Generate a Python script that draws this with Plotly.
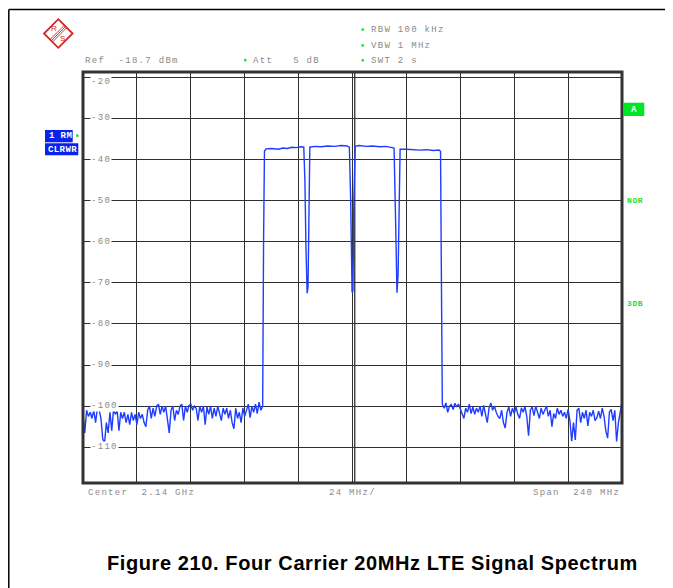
import numpy as np
import plotly.graph_objects as go

# analyzer settings
CENTER_MHZ = 2140
SPAN_MHZ = 240
DIV_MHZ = 24
REF_DBM = -18.7

# trace: noise floor left of the carriers (2020..2100 MHz, 0.8 MHz steps)
noise_left_dbm = [
    -102, -106.5, -101, -102.5, -101.5, -103, -101, -104, -100.5, -101,
    -103, -108, -109, -104, -106.5, -101.5, -106, -100.8, -102, -101,
    -106, -101.5, -103, -101.5, -104, -102, -104.5, -101.5, -103.5, -102,
    -104.5, -101.5, -103, -102, -104, -105, -101, -100, -103, -100.5,
    -102.5, -100, -99.5, -102, -100, -101.5, -100, -104, -106.5, -101,
    -100, -103.5, -101, -102, -100, -99.5, -103.5, -100, -101.5, -99.8,
    -99.5, -101, -100, -100.5, -103.5, -100, -101.5, -100, -104.5, -100.2,
    -102, -100, -103, -100.5, -102.5, -100, -101.5, -103.5, -100.5, -102,
    -100.5, -103, -101, -104, -105.5, -100.5, -103, -101.5, -104, -100.5,
    -102.5, -100.8, -99.5, -102.8, -100, -101.5, -99.5, -101.8, -99, -101,
    -100,
]

# four 20 MHz LTE carriers, 2100..2180 MHz
carrier_freq_mhz = [
    2100.4, 2100.8, 2101.5, 2104, 2107, 2109, 2111, 2113, 2115, 2117,
    2118.3, 2118.8, 2119.3, 2119.8, 2120.2, 2120.6, 2121.0, 2123, 2126, 2129,
    2132, 2135, 2137.5, 2138.6, 2139.2, 2139.8, 2140.2, 2140.6, 2141.2, 2143,
    2146, 2149, 2152, 2155, 2157.5, 2158.5, 2159.2, 2159.8, 2160.3, 2160.8,
    2161.2, 2164, 2167, 2170, 2173, 2176, 2178.5, 2179.2, 2179.6,
]
carrier_dbm = [
    -60, -38.0, -37.4, -37.3, -37.5, -37.2, -37.3, -37.0, -37.1, -36.9,
    -37.0, -45, -62, -72.5, -71, -50, -37.0, -36.8, -36.9, -36.7,
    -36.8, -36.6, -36.7, -37, -50, -72.3, -72, -50, -36.8, -36.6,
    -36.8, -36.7, -36.9, -36.8, -37.0, -37.2, -55, -72.4, -68, -45,
    -37.5, -37.5, -37.6, -37.7, -37.6, -37.8, -37.7, -38, -70,
]

# noise floor right of the carriers (2180..2260 MHz, 0.8 MHz steps)
noise_right_dbm = [
    -99.5, -100.5, -99.2, -101.5, -100, -99.6, -100.8, -99.3, -100.2, -99.5,
    -100.8, -102, -103, -100.5, -101.5, -99.5, -101.8, -100.2, -102, -100.5,
    -101.5, -100, -102.5, -99.8, -101.8, -104, -100.5, -99.2, -101, -100,
    -101.5, -102.5, -103, -101, -104, -105.3, -101.5, -100.2, -102.5, -100.5,
    -101.8, -100.2, -102, -103, -100.4, -101.5, -100.1, -102.5, -107.2, -101,
    -100.2, -102.3, -100, -101.5, -103, -100.5, -102, -101, -100, -102.5,
    -101, -105, -101.8, -103, -100.5, -102, -101, -102.5, -101.5, -103,
    -100.8, -103.5, -108.5, -104, -108.2, -101, -100.5, -104, -101.5, -103,
    -101, -104.8, -101.5, -102.5, -101, -103.5, -102.8, -101.2, -103, -100.5,
    -102.5, -106, -107.8, -101.5, -100.8, -103.5, -101, -108.6, -104, -101.5,
    -99,
]

level_ticks = [-20, -30, -40, -50, -60, -70, -80, -90, -100, -110]

f_start = CENTER_MHZ - SPAN_MHZ / 2
f_stop = CENTER_MHZ + SPAN_MHZ / 2
freq = np.concatenate([
    np.linspace(f_start, 2100, len(noise_left_dbm)),
    carrier_freq_mhz,
    np.linspace(2180, f_stop, len(noise_right_dbm)),
])
level = np.concatenate([noise_left_dbm, carrier_dbm, noise_right_dbm])

# page geometry in page pixels (the figure div sits 8 px in from the page corner)
PAGE_W, PAGE_H = 673, 588
BODY = 8
L, R, T, B = 83, 622, 72, 483


def px(x):
    return (x - L) / (R - L)


def py(y):
    return (B - y) / (B - T)


MONO = "Liberation Mono, Courier New, monospace"
GREY = "#8a8a8a"
GREEN = "#22dd33"
BLUE = "#0a22ee"
RED = "#d02828"


def spaced(text, sp=1.3):
    return f'<span style="letter-spacing:{sp}px">{text}</span>'


fig = go.Figure()

fig.add_trace(
    go.Scatter(
        x=freq,
        y=level,
        mode="lines",
        line=dict(color="#1f3dff", width=1.4),
        showlegend=False,
        hoverinfo="skip"
    )
)

annotations = []
shapes = []


def label(text, x, y, anchor="left", color=GREY, size=9, bold=False, sp=1.3, bg=None, yshift=0):
    annotations.append(dict(
        text=spaced(f"<b>{text}</b>" if bold else text, sp),
        x=px(x), y=py(y), xref="paper", yref="paper",
        xanchor=anchor, yanchor="middle", showarrow=False,
        font=dict(family=MONO, size=size, color=color),
        bgcolor=bg, borderpad=0, yshift=yshift
    ))


def dot(x, y, r=1.4):
    shapes.append(dict(
        type="circle", xref="paper", yref="paper",
        x0=px(x - r), x1=px(x + r), y0=py(y + r), y1=py(y - r),
        fillcolor=GREEN, line=dict(width=0)
    ))


def box(x0, y0, x1, y1, color):
    shapes.append(dict(
        type="rect", xref="paper", yref="paper",
        x0=px(x0), x1=px(x1), y0=py(y1), y1=py(y0),
        fillcolor=color, line=dict(width=0), layer="above"
    ))


# header texts
label("Ref  -18.7 dBm", 84, 60.7)
label("Att   5 dB", 251.7, 60.7)
dot(245.3, 60.2)
for txt, yy in [("RBW 100 kHz", 30), ("VBW 1 MHz", 45.8), ("SWT 2 s", 60.7)]:
    label(txt, 369.5, yy)
    dot(362.7, yy - 0.4)

# footer texts
label("Center  2.14 GHz", 86.5, 493.3)
label("24 MHz/", 352.5, 493.3, anchor="center")
label("Span  240 MHz", 531.7, 493.3)

# level labels inside the grid
for lv in level_ticks:
    yy = T + (REF_DBM - lv) / 100 * (B - T)
    label(str(lv), 89.5, yy, bg="white", yshift=-4.5 if lv == -20 else 0)

# trace info boxes
box(45, 130, 72.7, 142.3, BLUE)
box(45, 143.3, 78.3, 155.3, BLUE)
label("1 RM", 47.8, 136.2, color="white", bold=True, sp=0.4)
label("CLRWR", 46.5, 149.5, color="white", bold=True, sp=0.4)
dot(77.3, 135.7)

box(623.7, 102.7, 644.3, 116, "#00e626")
label("A", 634, 109.5, anchor="center", color="white", bold=True, sp=0)
label("NOR", 625.5, 200.7, color=GREEN, bold=True, size=8, sp=0.6)
label("3DB", 625.5, 303.3, color=GREEN, bold=True, size=8, sp=0.6)

# R&S logo
cx, cy, rr = 58.3, 33.5, 14.3
diamond = f"M {px(cx)} {py(cy - rr)} L {px(cx + rr)} {py(cy)} L {px(cx)} {py(cy + rr)} L {px(cx - rr)} {py(cy)} Z"
shapes.append(dict(type="path", xref="paper", yref="paper", path=diamond,
                   line=dict(color=RED, width=1.8)))
for off in (-1.2, 0, 1.2):
    shapes.append(dict(type="line", xref="paper", yref="paper",
                       x0=px(51 + off), y0=py(41 + off), x1=px(65.5 + off), y1=py(26.5 + off),
                       line=dict(color=RED, width=0.9)))
for ch, xx, yy in [("R", 54, 28.5), ("S", 62.5, 39)]:
    annotations.append(dict(text=ch, x=px(xx), y=py(yy), xref="paper", yref="paper",
                            xanchor="center", yanchor="middle", showarrow=False,
                            font=dict(family="Liberation Sans", size=8, color=RED)))

# page border (top and left)
shapes.append(dict(type="line", xref="paper", yref="paper", x0=px(8.8), x1=px(PAGE_W + 5),
                   y0=py(9.6), y1=py(9.6), line=dict(color="black", width=1.5)))
shapes.append(dict(type="line", xref="paper", yref="paper", x0=px(8.8), x1=px(8.8),
                   y0=py(9.6), y1=py(PAGE_H + 5), line=dict(color="black", width=1.5)))

# double centre line and plot frame
shapes.append(dict(type="line", xref="x", yref="paper", x0=CENTER_MHZ + 1.0, x1=CENTER_MHZ + 1.0,
                   y0=0, y1=1, line=dict(color="#303030", width=1.3), layer="below"))
shapes.append(dict(type="rect", xref="paper", yref="paper", x0=0, x1=1, y0=0, y1=1,
                   line=dict(color="#333333", width=3)))

# caption
annotations.append(dict(
    text=spaced("<b>Figure 210. Four Carrier 20MHz LTE Signal Spectrum</b>", 0.6),
    x=px(372), y=py(563), xref="paper", yref="paper",
    xanchor="center", yanchor="middle", showarrow=False,
    font=dict(family="Liberation Sans, Arial", size=20, color="black")
))

fig.update_layout(
    width=PAGE_W - BODY,
    height=PAGE_H - BODY,
    autosize=False,
    margin=dict(l=L - BODY, r=PAGE_W - R, t=T - BODY, b=PAGE_H - B),
    paper_bgcolor="white",
    plot_bgcolor="white",
    annotations=annotations,
    shapes=shapes,
    showlegend=False
)

fig.update_xaxes(
    range=[f_start, f_stop],
    tickvals=[f_start + DIV_MHZ * k for k in range(1, 10)],
    showticklabels=False,
    ticks="",
    showgrid=True,
    gridcolor="#303030",
    gridwidth=1.4,
    zeroline=False,
    showline=False
)

fig.update_yaxes(
    range=[REF_DBM - 100, REF_DBM],
    tickvals=level_ticks,
    showticklabels=False,
    ticks="",
    showgrid=True,
    gridcolor="#303030",
    gridwidth=1.4,
    zeroline=False,
    showline=False
)

fig.write_html("out.html")
